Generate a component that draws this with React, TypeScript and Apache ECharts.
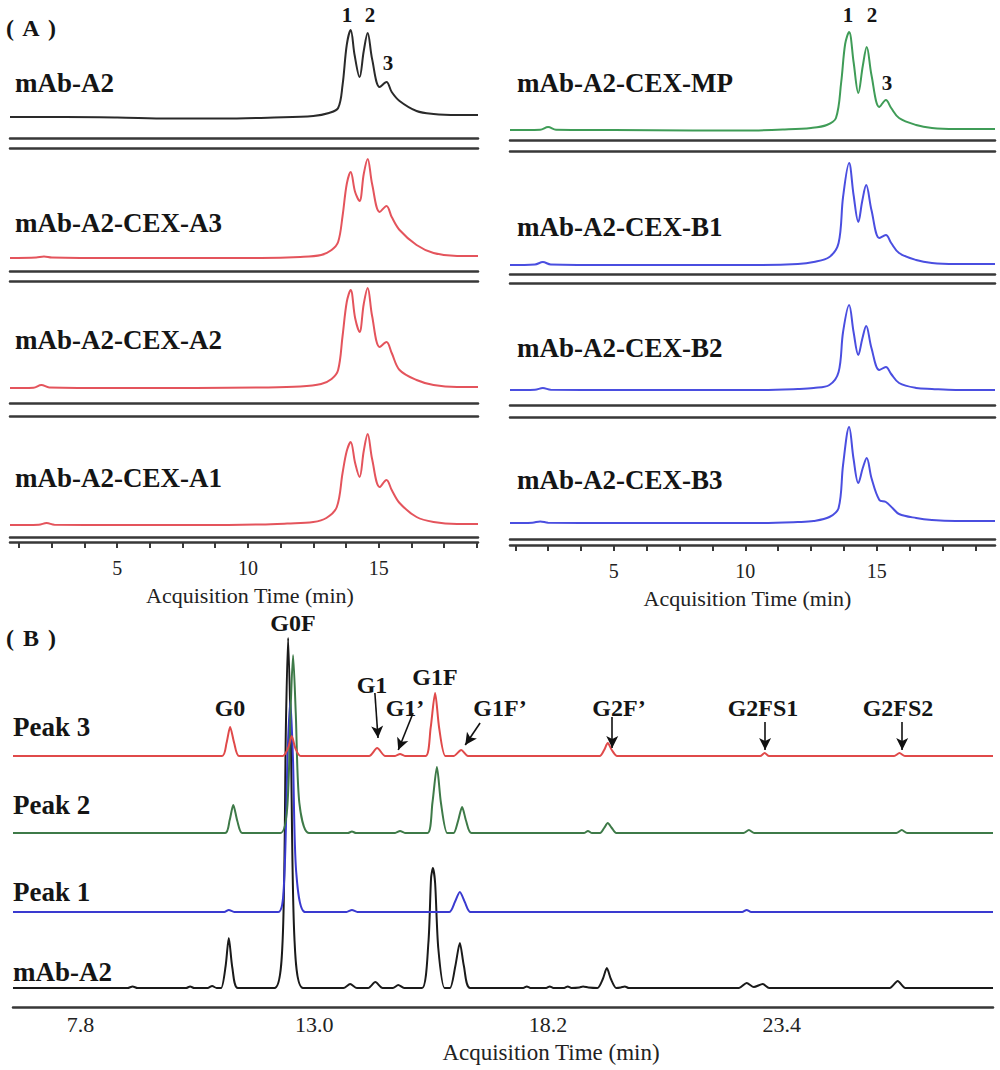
import React, { useEffect, useRef } from 'react';
import * as echarts from 'echarts';

// ---------- Panel A : axis ticks ----------
const A_TICKS = [1.25, 2.5, 3.75, 5, 6.25, 7.5, 8.75, 10, 11.25, 12.5, 13.75, 15, 16.25, 17.5, 18.75];
const A_TICK_LABELS = [5, 10, 15];
const B_TICK_LABELS = [7.8, 13.0, 18.2, 23.4];

const A_LEFT_NAMES = ['mAb-A2', 'mAb-A2-CEX-A3', 'mAb-A2-CEX-A2', 'mAb-A2-CEX-A1'];
const A_RIGHT_NAMES = ['mAb-A2-CEX-MP', 'mAb-A2-CEX-B1', 'mAb-A2-CEX-B2', 'mAb-A2-CEX-B3'];
const B_NAMES = ['mAb-A2', 'Peak 1', 'Peak 2', 'Peak 3'];
const PEAK_NUMBERS = ['1', '2', '3'];
const PANEL_LETTERS = ['A', 'B'];

// ---------- Panel A : traces [time (min), signal] ----------
const A_MAB_A2 = [[0.9,0],[3,0],[5,-0.5],[7,-1.5],[9,-1.5],[11,-0.5],[12.5,1],[13.1,4],[13.45,9],[13.62,32],[13.78,72],[13.93,87],[14.08,62],[14.27,40],[14.43,66],[14.58,84],[14.75,58],[15.04,30],[15.3,35],[15.5,25],[15.8,16],[16.45,6],[17.1,3],[18,2],[18.8,2]];
const A_CEX_A3 = [[0.9,0],[1.9,0.5],[2.2,1.5],[2.5,0.5],[5,0],[8,0],[10.5,0],[12,1],[12.8,3],[13.2,8],[13.45,16],[13.62,42],[13.78,74],[13.93,86],[14.1,66],[14.27,57],[14.43,84],[14.58,99],[14.75,74],[15.04,46],[15.3,52],[15.5,41],[15.8,28],[16.45,13],[17.1,5],[18,2],[18.8,2]];
const A_CEX_A2 = [[0.9,0],[1.8,0.3],[2.1,3],[2.4,0.5],[5,0],[8,0],[10.5,0.5],[12,1.5],[12.8,4],[13.2,9],[13.45,18],[13.62,52],[13.78,86],[13.93,98],[14.1,70],[14.27,56],[14.43,84],[14.58,100],[14.75,72],[15.04,41],[15.3,46],[15.5,35],[15.8,18],[16.45,8],[17.1,3],[18,1],[18.8,1]];
const A_CEX_A1 = [[0.9,0],[2.0,0.3],[2.3,2],[2.6,0.3],[5,0],[8,0],[10.5,0.5],[11.5,1.5],[12.5,3],[13.0,7],[13.4,18],[13.62,52],[13.78,74],[13.93,83],[14.1,62],[14.27,48],[14.43,74],[14.58,91],[14.75,66],[15.04,38],[15.3,45],[15.5,35],[15.8,22],[16.45,8],[17.1,3],[18,1],[18.8,1]];
const A_CEX_MP = [[1.05,0],[2.2,0.3],[2.5,3],[2.8,0.3],[5,0],[8,-0.5],[10,-0.5],[11.5,0.5],[12.5,2],[13.1,5],[13.45,12],[13.65,48],[13.8,86],[13.95,98],[14.12,68],[14.3,37],[14.47,64],[14.62,83],[14.8,55],[15.1,23],[15.35,30],[15.55,22],[15.85,12],[16.5,5],[17.1,2],[18,1],[19.5,1]];
const A_CEX_B1 = [[1.05,0],[2.0,0.5],[2.3,3],[2.6,0.5],[5,0],[8,0],[10.5,0],[12,1],[12.6,3],[13.2,8],[13.55,22],[13.72,68],[13.95,102],[14.12,70],[14.3,43],[14.45,64],[14.6,80],[14.8,55],[15.1,27],[15.35,30],[15.55,22],[15.85,12],[16.5,5],[17.1,2],[18,1],[19.5,1]];
const A_CEX_B2 = [[1.05,0],[2.0,0.3],[2.3,2],[2.6,0.3],[5,0],[8,0],[10.5,0],[12,1],[12.6,2],[13.2,5],[13.55,18],[13.72,58],[13.95,85],[14.12,58],[14.3,35],[14.45,51],[14.6,64],[14.8,42],[15.1,20],[15.35,23],[15.55,16],[15.85,7],[16.5,2],[17.1,1],[18,0],[19.5,0]];
const A_CEX_B3 = [[1.05,0],[1.9,0.3],[2.2,1.5],[2.5,0.3],[5,0],[8,0],[10.5,0],[12,1],[12.6,2],[13.2,6],[13.55,15],[13.72,58],[13.95,96],[14.12,64],[14.3,40],[14.47,55],[14.62,65],[14.8,45],[15.1,23],[15.35,21],[15.6,15],[15.85,9],[16.5,5],[17.1,3],[18,2],[19.5,2]];

// ---------- Panel B : traces [time (min), signal] ----------
const B_MAB_A2 = [[6.3,0],[8.85,0],[8.96,1.5],[9.07,0],[10.15,0],[10.24,1.5],[10.33,0],[10.63,0],[10.73,2],[10.83,0],[10.93,0],[11.03,22],[11.1,50],[11.18,20],[11.3,0],[12.12,0],[12.3,50],[12.37,260],[12.42,350],[12.48,250],[12.56,50],[12.75,0],[13.65,0],[13.8,4],[13.95,0],[14.2,0],[14.36,6],[14.52,0],[14.75,0],[14.87,3],[15.0,0],[15.4,0],[15.54,45],[15.6,110],[15.64,120],[15.69,105],[15.76,40],[15.9,0],[16.02,0],[16.14,22],[16.24,45],[16.33,22],[16.47,0],[17.65,0],[17.73,1.5],[17.81,0],[18.16,0],[18.24,1.5],[18.32,0],[18.56,0],[18.64,1.5],[18.72,0],[18.9,0.5],[18.98,1.5],[19.1,0.5],[19.3,0],[19.42,9],[19.51,20],[19.6,9],[19.72,0],[19.82,0.5],[19.91,1.5],[20.0,0],[22.45,0],[22.62,5],[22.78,1],[22.98,4],[23.12,0],[25.8,0],[25.98,7],[26.15,0],[28.1,0]];
const B_PEAK1 = [[6.3,0],[11.0,0],[11.1,2],[11.22,0],[12.2,0],[12.33,30],[12.41,160],[12.47,212],[12.53,150],[12.6,40],[12.8,0],[13.72,0],[13.84,2],[13.96,0],[16.0,0],[16.13,10],[16.24,20],[16.35,10],[16.48,0],[22.52,0],[22.62,2],[22.72,0],[28.1,0]];
const B_PEAK2 = [[6.3,0],[11.02,0],[11.12,13],[11.2,28],[11.29,12],[11.4,0],[12.25,0],[12.4,25],[12.48,130],[12.53,178],[12.59,120],[12.67,30],[12.88,0],[13.75,0],[13.84,1.5],[13.93,0],[14.8,0],[14.91,2],[15.02,0],[15.52,0],[15.63,30],[15.73,66],[15.82,30],[15.96,0],[16.1,0],[16.2,12],[16.29,26],[16.38,12],[16.5,0],[19.0,0],[19.09,2],[19.18,0],[19.36,0],[19.45,5],[19.53,10],[19.62,5],[19.72,0],[22.55,0],[22.67,3],[22.79,0],[25.95,0],[26.07,3],[26.19,0],[28.1,0]];
const B_PEAK3 = [[6.3,0],[10.95,0],[11.05,13],[11.13,29],[11.22,13],[11.33,0],[12.3,0],[12.42,8],[12.5,20],[12.58,8],[12.7,0],[14.22,0],[14.4,8],[14.58,0],[14.8,0],[14.91,2],[15.02,0],[15.48,0],[15.59,28],[15.69,63],[15.78,28],[15.92,0],[16.1,0],[16.27,6],[16.42,0],[19.35,0],[19.45,6],[19.53,13],[19.62,6],[19.74,0],[22.92,0],[23.02,3],[23.12,0],[25.9,0],[26.02,3],[26.14,0],[28.1,0]];

// ---------- Panel B : glycan annotations ----------
const GLYCANS = ['G0', 'G0F', 'G1', 'G1\u2019', 'G1F', 'G1F\u2019', 'G2F\u2019', 'G2FS1', 'G2FS2'];
// arrows [fromTime, fromSignal, toTime, toSignal] in Peak 3 coordinates
const ARROWS = [[14.35,63,14.42,18],[15.2,43,14.87,6],[16.69,33,16.36,11],[19.63,39,19.63,8],[23.03,34,23.03,6],[26.08,34,26.08,6]];

// ---------- layout & style (not data) ----------
const SERIF = '"Liberation Serif", "Times New Roman", serif';
const LINE_C = '#383838';
const LEFT_ROWS = [{ top: 20, h: 118, min: -21 }, { top: 148, h: 123, min: -13 }, { top: 281, h: 122, min: -15 }, { top: 416, h: 121, min: -12 }];
const RIGHT_ROWS = [{ top: 20, h: 120, min: -10 }, { top: 151, h: 123, min: -9 }, { top: 283, h: 122, min: -15 }, { top: 417, h: 122, min: -16 }];
const LEFT_LABEL_Y = [83, 223, 340, 478];
const RIGHT_LABEL_Y = [83, 227, 348, 480];
const LEFT_NUM_POS = [[347, 15], [370, 15], [388, 63]];
const RIGHT_NUM_POS = [[848, 15], [872, 15], [887, 83]];
const TAG_Y = [28, 638];
const B_LABEL_Y = [972, 892, 805, 727];
const GLYCAN_POS = [[230, 708], [293, 623], [372, 685], [405, 708], [435, 677], [500, 708], [619, 708], [763, 708], [898, 708]];
const B_OFFSETS = [-19, -95, -174, -251];
const B_COLORS = ['#1a1a1a', '#3a3ad0', '#3e7a48', '#e04a4a'];

function txt(text: string, x: number, y: number, size: number, bold: boolean, align: string, family = SERIF) {
  return {
    type: 'text', x, y, silent: true,
    style: {
      text, fill: '#151515',
      font: `${bold ? 'bold ' : ''}${size}px ${family}`,
      textAlign: align, textVerticalAlign: 'middle', align, verticalAlign: 'middle',
    },
  };
}

export default function App() {
  const ref = useRef<HTMLDivElement>(null);
  useEffect(() => {
    if (!ref.current) return;
    const chart = echarts.init(ref.current, null, { renderer: 'svg' });

    const leftData = [A_MAB_A2, A_CEX_A3, A_CEX_A2, A_CEX_A1];
    const rightData = [A_CEX_MP, A_CEX_B1, A_CEX_B2, A_CEX_B3];
    const leftColors = ['#2a2a2a', '#e4545c', '#e4545c', '#e4545c'];
    const rightColors = ['#3f9c57', '#4a4ee0', '#4a4ee0', '#4a4ee0'];

    const grids: any[] = [];
    const xAxes: any[] = [];
    const yAxes: any[] = [];
    const series: any[] = [];

    const plainX = (gridIndex: number, min: number, max: number, position: string) => ({
      type: 'value', gridIndex, min, max, position,
      axisLine: { show: true, onZero: false, lineStyle: { color: LINE_C, width: 2.5 } },
      axisTick: { show: false }, axisLabel: { show: false }, splitLine: { show: false },
    });

    const addColumn = (rows: any[], data: any[], colors: string[], left: number, width: number, xmin: number, xmax: number) => {
      rows.forEach((r, i) => {
        const g = grids.length;
        grids.push({ left, width, top: r.top, height: r.h });
        const xi = xAxes.length;
        xAxes.push(plainX(g, xmin, xmax, 'bottom'));
        yAxes.push({ type: 'value', gridIndex: g, min: r.min, max: r.min + r.h, show: false });
        series.push({
          type: 'line', xAxisIndex: xi, yAxisIndex: yAxes.length - 1, data: data[i],
          showSymbol: false, smooth: 0.35, clip: false,
          lineStyle: { color: colors[i], width: 2 }, silent: true,
        });
      });
    };

    addColumn(LEFT_ROWS, leftData, leftColors, 10, 468, 0.9, 18.8);
    addColumn(RIGHT_ROWS, rightData, rightColors, 510, 485, 1.05, 19.5);

    // top border lines for rows 2-4
    [1, 2, 3].forEach((g) => xAxes.push(plainX(g, 0.9, 18.8, 'top')));
    [5, 6, 7].forEach((g) => xAxes.push(plainX(g, 1.05, 19.5, 'top')));

    const labeledAxis = (gridIndex: number, min: number, max: number, offset: number, pad: number[]) => ({
      type: 'value', gridIndex, min, max, position: 'bottom', offset,
      axisLine: { show: true, onZero: false, lineStyle: { color: LINE_C, width: 2.5 } },
      axisTick: { show: true, customValues: A_TICKS, length: 6, inside: false, lineStyle: { color: LINE_C, width: 2 } },
      axisLabel: { show: true, customValues: A_TICK_LABELS, margin: 16, fontSize: 20, fontFamily: SERIF, color: '#222' },
      splitLine: { show: false },
      name: 'Acquisition Time (min)', nameLocation: 'middle', nameGap: 42,
      nameTextStyle: { fontSize: 22, fontFamily: SERIF, color: '#222', padding: pad },
    });
    xAxes.push(labeledAxis(3, 0.9, 18.8, 5, [0, 0, 0, 12]));
    xAxes.push(labeledAxis(7, 1.05, 19.5, 6, [0, 10, 0, 0]));

    // Panel B
    const gB = grids.length;
    grids.push({ left: 13, right: 7, top: 620, height: 387 });
    const xB = xAxes.length;
    xAxes.push({
      type: 'value', gridIndex: gB, min: 6.3, max: 28.1, position: 'bottom',
      axisLine: { show: true, onZero: false, lineStyle: { color: LINE_C, width: 2.5 } },
      axisTick: { show: false },
      axisLabel: { show: true, customValues: B_TICK_LABELS, margin: 6, fontSize: 22, fontFamily: SERIF, color: '#222', formatter: (v: number) => v.toFixed(1) },
      splitLine: { show: false },
      name: 'Acquisition Time (min)', nameLocation: 'middle', nameGap: 34,
      nameTextStyle: { fontSize: 23, fontFamily: SERIF, color: '#222', padding: [0, 0, 0, 96] },
    });
    const bData = [B_MAB_A2, B_PEAK1, B_PEAK2, B_PEAK3];
    bData.forEach((d, i) => {
      const yi = yAxes.length;
      yAxes.push({ type: 'value', gridIndex: gB, min: B_OFFSETS[i], max: B_OFFSETS[i] + 387, show: false });
      const s: any = {
        type: 'line', name: B_NAMES[i], xAxisIndex: xB, yAxisIndex: yi, data: d,
        showSymbol: false, smooth: 0.25, clip: false, silent: true,
        lineStyle: { color: B_COLORS[i], width: 2 },
      };
      if (i === 3) {
        s.markLine = {
          silent: true, symbol: ['none', 'arrow'], symbolSize: [9, 12], animation: false,
          lineStyle: { color: '#111', width: 1.6, type: 'solid' }, label: { show: false },
          data: ARROWS.map((a) => [{ coord: [a[0], a[1]] }, { coord: [a[2], a[3]] }]),
        };
      }
      series.push(s);
    });

    const graphic: any[] = [];
    PANEL_LETTERS.forEach((l, i) => {
      graphic.push(txt('(', 6, TAG_Y[i], 24, true, 'left'));
      graphic.push(txt(l, 31, TAG_Y[i], 24, true, 'center'));
      graphic.push(txt(')', 56, TAG_Y[i], 24, true, 'right'));
    });
    A_LEFT_NAMES.forEach((n, i) => graphic.push(txt(n, 15, LEFT_LABEL_Y[i], 27, true, 'left')));
    A_RIGHT_NAMES.forEach((n, i) => graphic.push(txt(n, 517, RIGHT_LABEL_Y[i], 27, true, 'left')));
    PEAK_NUMBERS.forEach((n, i) => {
      graphic.push(txt(n, LEFT_NUM_POS[i][0], LEFT_NUM_POS[i][1], 21, true, 'center'));
      graphic.push(txt(n, RIGHT_NUM_POS[i][0], RIGHT_NUM_POS[i][1], 21, true, 'center'));
    });
    B_NAMES.forEach((n, i) => graphic.push(txt(n, 13, B_LABEL_Y[i], 27, true, 'left')));
    GLYCANS.forEach((n, i) => graphic.push(txt(n, GLYCAN_POS[i][0], GLYCAN_POS[i][1], 24, true, 'center')));

    chart.setOption({
      animation: false,
      backgroundColor: '#ffffff',
      grid: grids,
      xAxis: xAxes,
      yAxis: yAxes,
      series,
      graphic,
    });
    return () => chart.dispose();
  }, []);
  return <div ref={ref} style={{ position: 'absolute', left: 0, top: 0, width: 1000, height: 1070 }} />;
}
